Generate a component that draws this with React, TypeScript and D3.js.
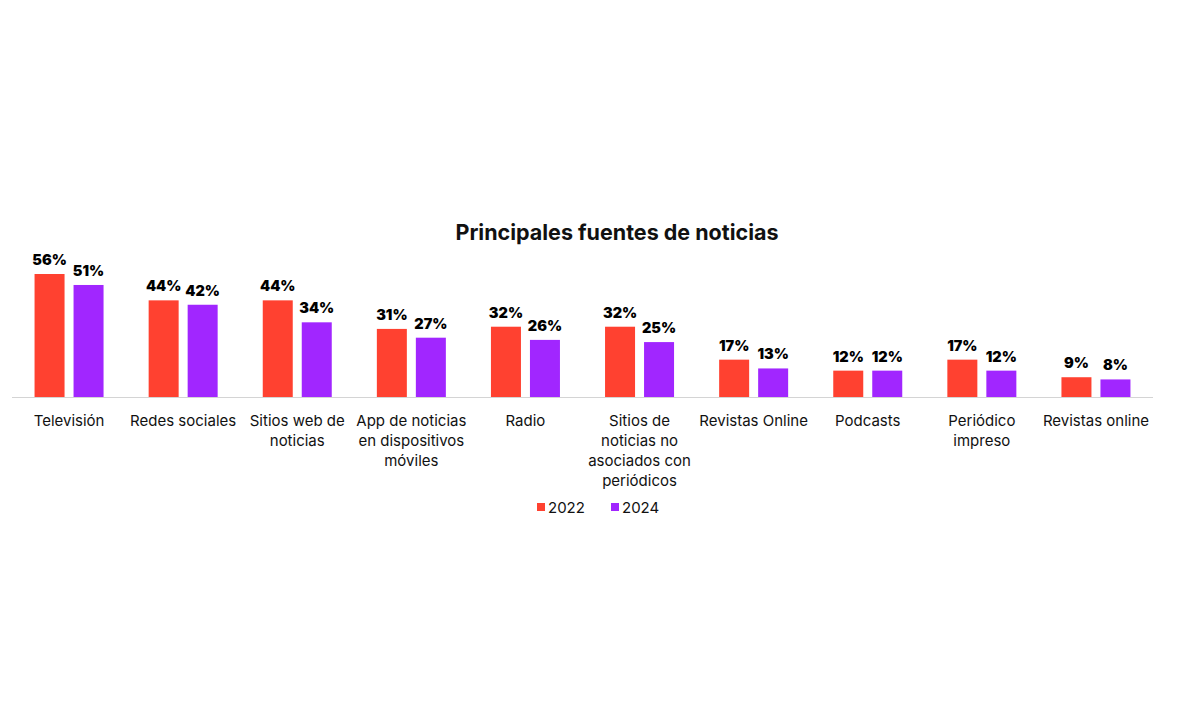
import React, { useEffect, useRef } from 'react';
import * as d3 from 'd3';

const categories = [
  ['Televisión'],
  ['Redes sociales'],
  ['Sitios web de', 'noticias'],
  ['App de noticias', 'en dispositivos', 'móviles'],
  ['Radio'],
  ['Sitios de', 'noticias no', 'asociados con', 'periódicos'],
  ['Revistas Online'],
  ['Podcasts'],
  ['Periódico', 'impreso'],
  ['Revistas online'],
];
const years = ['2022', '2024'];
const values2022 = [56, 44, 44, 31, 32, 32, 17, 12, 17, 9];
const values2024 = [51, 42, 34, 27, 26, 25, 13, 12, 12, 8];

const colors = ['#FF4130', '#A126FF'];
const FONT = 'Inter, "Noto Sans", sans-serif';

const App: React.FC = () => {
  const ref = useRef<SVGSVGElement>(null);

  useEffect(() => {
    const svg = d3.select(ref.current);
    svg.selectAll('*').remove();

    const baseline = 397;
    const keys = categories.map(c => c.join(' '));

    const x0 = d3.scaleBand().domain(keys).range([12, 1153]);
    const groupWidth = 69;
    const x1 = d3.scaleBand().domain(years).range([0, groupWidth]).paddingInner(0.2308);
    const y = d3.scaleLinear().domain([0, 56]).range([baseline, 274]);

    const series = [values2022, values2024];

    // title
    svg.append('text')
      .attr('x', 617)
      .attr('y', 240)
      .attr('text-anchor', 'middle')
      .attr('font-family', FONT)
      .attr('font-weight', 700)
      .attr('font-size', 21.5)
      .attr('fill', '#111')
      .text('Principales fuentes de noticias');

    const g = svg.append('g');

    keys.forEach((k, i) => {
      const gx = (x0(k) as number) + (x0.bandwidth() - groupWidth) / 2;
      years.forEach((yr, j) => {
        const v = series[j][i];
        const bx = gx + (x1(yr) as number);
        g.append('rect')
          .attr('x', bx)
          .attr('y', y(v))
          .attr('width', x1.bandwidth())
          .attr('height', baseline - y(v))
          .attr('fill', colors[j]);
        g.append('text')
          .attr('x', bx + x1.bandwidth() / 2)
          .attr('y', y(v) - 9)
          .attr('text-anchor', 'middle')
          .attr('font-family', FONT)
          .attr('font-weight', 900)
          .attr('font-size', 14.5)
          .attr('fill', '#000')
          .text(`${v}%`);
      });
    });

    // axis line
    svg.append('line')
      .attr('x1', 12).attr('x2', 1153)
      .attr('y1', baseline + 0.5).attr('y2', baseline + 0.5)
      .attr('stroke', '#d4d4d4')
      .attr('stroke-width', 1);

    // category labels
    categories.forEach((lines, i) => {
      const cx = (x0(keys[i]) as number) + x0.bandwidth() / 2;
      const t = svg.append('text')
        .attr('text-anchor', 'middle')
        .attr('font-family', FONT)
        .attr('font-size', 15)
        .attr('fill', '#111');
      lines.forEach((ln, li) => {
        t.append('tspan').attr('x', cx).attr('y', 426 + li * 20).text(ln);
      });
    });

    // legend
    const legend = svg.append('g').attr('transform', 'translate(537,503)');
    const legendX = [0, 74];
    years.forEach((yr, j) => {
      legend.append('rect')
        .attr('x', legendX[j]).attr('y', 0)
        .attr('width', 8).attr('height', 8)
        .attr('fill', colors[j]);
      legend.append('text')
        .attr('x', legendX[j] + 11).attr('y', 10)
        .attr('font-family', FONT)
        .attr('font-size', 15)
        .attr('fill', '#111')
        .text(yr);
    });
  }, []);

  return (
    <svg ref={ref} width={1200} height={720}
      style={{ position: 'absolute', left: 0, top: 0, background: '#fff' }} />
  );
};

export default App;
